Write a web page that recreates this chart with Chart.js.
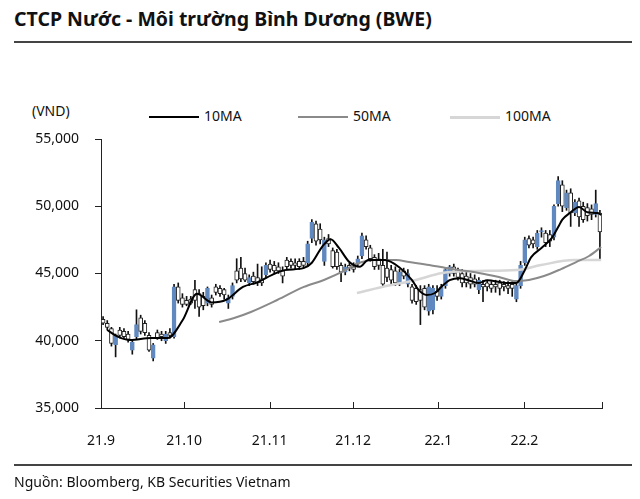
<!DOCTYPE html>
<html>
<head>
<meta charset="utf-8">
<script src="https://cdn.jsdelivr.net/npm/chart.js@4.4.0/dist/chart.umd.min.js"></script>
<style>
  body { margin: 0; width: 640px; height: 499px; position: relative; background: #fff; font-family: "Noto Sans", sans-serif; overflow: hidden; }
  #title { position: absolute; left: 14px; top: 5px; font-size: 19.5px; font-weight: bold; color: #111; white-space: nowrap; }
  .rule { position: absolute; left: 14px; width: 618px; border-top: 2px solid #444; }
  #unit { position: absolute; left: 32px; top: 101px; font-size: 14px; color: #111; }
  .leg { position: absolute; top: 106px; font-size: 14px; color: #111; }
  .leg i { display: inline-block; width: 50px; height: 0; vertical-align: middle; margin-right: 5px; }
  #source { position: absolute; left: 14px; top: 472px; font-size: 14px; color: #111; }
  canvas { position: absolute; left: 0; top: 0; }
</style>
</head>
<body>
<div id="title">CTCP Nước - Môi trường Bình Dương (BWE)</div>
<div class="rule" style="top:41px"></div>
<div id="unit">(VND)</div>
<div class="leg" style="left:149px"><i style="border-top:2px solid #000"></i>10MA</div>
<div class="leg" style="left:298px"><i style="border-top:2px solid #8a8a8a"></i>50MA</div>
<div class="leg" style="left:450px"><i style="border-top:3px solid #d6d6d6"></i>100MA</div>
<canvas id="chart" width="640" height="499"></canvas>
<div class="rule" style="top:464px"></div>
<div id="source">Nguồn: Bloomberg, KB Securities Vietnam</div>

<script>
// daily candles, Sep 2021 - Feb 2022 (one entry per trading session)
const openPrices = [
  41600, 41300, 40900, 39700, 40800, 40700, 40500, 39300, 40300, 41700,
  41300, 40400, 38700, 40600, 40500, 40000, 40600, 40300, 44000, 43200,
  43000, 43100, 43800, 43500, 43300, 42800, 43200, 44000, 43900, 43800,
  42800, 43300, 45200, 45400, 45000, 44300, 44800, 44700, 44600, 44900,
  45700, 45600, 45500, 45200, 46000, 45900, 45800, 45900, 45900, 45800,
  47600, 48700, 48300, 45900, 47600, 46700, 46600, 45600, 45100, 45600,
  45500, 45700, 46300, 47500, 46900, 46200, 46100, 45600, 45400, 45300,
  45200, 44300, 45200, 44200, 44000, 43900, 43800, 43900, 42200, 42300,
  43700, 43300, 44100, 45000, 45500, 45200, 45000, 44800, 44700, 44600,
  43800, 44200, 44300, 44200, 44200, 44300, 44200, 44100, 44200, 43100,
  44100, 45800, 47600, 47500, 47000, 48100, 48000, 47900, 47700, 50200,
  51600, 49900, 51000, 49500, 50400, 50000, 49900, 49800, 49400, 49500
];
const highPrices = [
  41800, 41500, 41000, 40500, 41000, 40900, 40700, 40100, 42300, 41900,
  41500, 40600, 39800, 40800, 40700, 40700, 40900, 44200, 44300, 43500,
  43300, 43300, 44500, 43800, 43600, 44000, 43400, 44200, 44100, 43900,
  43400, 44300, 46100, 46200, 45400, 44900, 45100, 45700, 45500, 45800,
  46000, 45900, 45800, 45500, 46200, 46100, 46100, 46100, 46200, 47400,
  49000, 48900, 48700, 47700, 47900, 46900, 46800, 45800, 45700, 45800,
  45800, 46300, 48000, 47800, 47100, 46400, 46500, 46800, 46600, 45600,
  45500, 45300, 45400, 45300, 44200, 44100, 44100, 44100, 44200, 44100,
  44100, 44200, 45400, 45600, 45700, 45400, 45300, 45100, 45000, 44900,
  44700, 44500, 44500, 44400, 44500, 44500, 44400, 44400, 44400, 44200,
  45900, 47700, 47800, 47700, 48200, 48400, 48200, 48200, 50100, 52200,
  51900, 51200, 51300, 50500, 50600, 50300, 50200, 50100, 51200, 49700
];
const lowPrices = [
  41200, 40800, 39600, 38800, 40200, 40200, 39900, 39000, 40100, 40500,
  40400, 39200, 38500, 40100, 40000, 39800, 40200, 40200, 42800, 42500,
  42600, 42700, 42400, 41800, 42300, 42600, 42500, 43400, 43300, 43100,
  42400, 43100, 44300, 44400, 44400, 44100, 44200, 44100, 44100, 44700,
  45100, 45000, 45000, 44300, 45300, 45400, 45300, 45300, 45400, 45600,
  47300, 47100, 47200, 45600, 47000, 45400, 45300, 44400, 44900, 45200,
  45100, 45500, 46100, 46800, 45900, 45300, 45300, 44000, 44400, 44200,
  44100, 44100, 44600, 44000, 42800, 42700, 41200, 42300, 41900, 42000,
  43000, 43100, 43900, 44800, 44800, 44500, 44000, 44000, 43900, 44000,
  43500, 42900, 43700, 43600, 43600, 43400, 43700, 43500, 43300, 42900,
  43900, 45600, 46900, 46900, 46800, 47700, 47000, 47000, 47500, 50000,
  49600, 49700, 48500, 49300, 48500, 48800, 48900, 49000, 49200, 46000
];
const closePrices = [
  41300, 41000, 39800, 40400, 40400, 40300, 40100, 39900, 41200, 40700,
  40600, 39300, 39700, 40200, 40300, 40500, 40400, 44000, 43000, 42700,
  42700, 42800, 43000, 42500, 42600, 43900, 42700, 43600, 43500, 43400,
  43200, 44100, 44500, 44600, 44500, 44700, 44400, 44300, 44300, 45600,
  45300, 45200, 45200, 44800, 45500, 45600, 45600, 45500, 45600, 47200,
  48800, 47400, 47500, 47500, 47200, 45500, 45500, 45100, 45500, 45400,
  45300, 46100, 47800, 47000, 46100, 45500, 45600, 44200, 44700, 44500,
  44300, 45100, 44800, 45000, 43000, 42900, 43000, 42500, 44000, 43900,
  43300, 44000, 45300, 45500, 45000, 44700, 44300, 44300, 44200, 44200,
  44500, 44000, 44000, 43900, 44000, 43900, 44000, 43900, 43900, 44100,
  45600, 47500, 47100, 47200, 48000, 48200, 47300, 47400, 50000, 51900,
  50000, 51000, 49500, 50300, 49200, 49000, 49300, 49400, 50200, 48100
];

// moving averages (session index -> price)
const ma10Idx = [1.5, 4, 7, 12, 16, 19.5, 23, 26.5, 30, 34, 37.5, 41, 44, 48.5, 50.5, 53, 55, 57, 59.5, 62, 64, 68, 71.5, 74.5, 76, 78, 80, 81.5, 83.5, 86, 88, 90.5, 92.5, 97, 99.5, 101.5, 103, 105.5, 108, 109.5, 110.5, 112.5, 114.5, 116.5, 119, 119.8];
const ma10Val = [40800, 40300, 40050, 40200, 40200, 41500, 43500, 42850, 43050, 44000, 44350, 44900, 45250, 45400, 45800, 47000, 47550, 46900, 45850, 45500, 46000, 46000, 45450, 44500, 43800, 43400, 43550, 44000, 44500, 44650, 44500, 44300, 44500, 44300, 44300, 45250, 46200, 46900, 47650, 48450, 49000, 49550, 49950, 49550, 49500, 49350];
const ma50Idx = [28.3, 31.9, 35.9, 42.2, 48.6, 53.4, 58.2, 61.1, 65.9, 70.7, 73.8, 78.6, 82.6, 85.7, 90.5, 95.3, 99.4, 102.5, 106.1, 110.2, 113.8, 116.9, 119.8];
const ma50Val = [41390, 41690, 42140, 43030, 44000, 44520, 45190, 45710, 46000, 46000, 45850, 45630, 45410, 45260, 45040, 44740, 44440, 44520, 44810, 45330, 45850, 46300, 46970];
const ma100Idx = [61.3, 67.3, 75.4, 81.7, 89.3, 99.6, 105.4, 113.3, 119.8];
const ma100Val = [43550, 44000, 44520, 45040, 45190, 45260, 45630, 46000, 46000];

const monthPos = [0, 19.9, 40.4, 60.4, 80.8, 101.4, 120];
const monthLabels = ["21.9", "21.10", "21.11", "21.12", "22.1", "22.2", ""];
const yTicks = [35000, 40000, 45000, 50000, 55000];

const upColor = "#6189c0";

const wicks = [], bodies = [], bodyFill = [], bodyEdge = [];
closePrices.forEach(function (c, i) {
  const o = openPrices[i];
  wicks.push({ x: i + 0.5, y: [lowPrices[i], highPrices[i]] });
  bodies.push({ x: i + 0.5, y: [Math.min(o, c), Math.max(o, c) + (o === c ? 60 : 0)] });
  bodyFill.push(c >= o ? upColor : "#ffffff");
  bodyEdge.push(c >= o ? upColor : "#222222");
});

function pairs(xs, ys) {
  return xs.map(function (x, i) { return { x: x, y: ys[i] }; });
}

const innerTicks = {
  id: "innerTicks",
  afterDraw(chart) {
    const c = chart.ctx, xs = chart.scales.x, b = chart.chartArea.bottom;
    c.save();
    c.strokeStyle = "#222";
    c.lineWidth = 1;
    monthPos.forEach(function (v) {
      const px = Math.round(xs.getPixelForValue(v)) + 0.5;
      c.beginPath();
      c.moveTo(px, b);
      c.lineTo(px, b - 6);
      c.stroke();
    });
    c.restore();
  }
};

new Chart(document.getElementById("chart").getContext("2d"), {
  data: {
    datasets: [
      { type: "line", data: pairs(ma10Idx, ma10Val), borderColor: "#000", borderWidth: 2, pointRadius: 0, cubicInterpolationMode: "monotone", order: 0 },
      { type: "line", data: pairs(ma50Idx, ma50Val), borderColor: "#8a8a8a", borderWidth: 2, pointRadius: 0, cubicInterpolationMode: "monotone", order: 1 },
      { type: "line", data: pairs(ma100Idx, ma100Val), borderColor: "#d6d6d6", borderWidth: 2.5, pointRadius: 0, cubicInterpolationMode: "monotone", order: 2 },
      { type: "bar", data: bodies, backgroundColor: bodyFill, borderColor: bodyEdge, borderWidth: 1, borderSkipped: false, barThickness: 4, grouped: false, order: 3 },
      { type: "bar", data: wicks, backgroundColor: "#111", barThickness: 1, grouped: false, order: 4 }
    ]
  },
  options: {
    responsive: false,
    animation: false,
    devicePixelRatio: 1,
    layout: { padding: { top: 139, right: 38, bottom: 51, left: 0 } },
    plugins: { legend: { display: false }, tooltip: { enabled: false } },
    scales: {
      x: {
        type: "linear",
        min: 0,
        max: 120,
        offset: false,
        afterFit: function (s) { s.height = 40; },
        afterBuildTicks: function (s) { s.ticks = monthPos.map(function (v) { return { value: v }; }); },
        grid: { display: false, offset: false },
        border: { display: true, color: "#222", width: 1 },
        ticks: {
          autoSkip: false, maxRotation: 0, padding: 17, color: "#111",
          font: { family: "Noto Sans", size: 14 },
          callback: function (v, i) { return monthLabels[i]; }
        }
      },
      y: {
        min: 35000,
        max: 55000,
        afterFit: function (s) { s.width = 101; },
        afterBuildTicks: function (s) { s.ticks = yTicks.map(function (v) { return { value: v }; }); },
        grid: { drawOnChartArea: false, drawTicks: true, tickLength: 6, color: "#222" },
        border: { display: true, color: "#222", width: 1 },
        ticks: {
          padding: 16, color: "#111",
          font: { family: "Noto Sans", size: 14 },
          callback: function (v) { return v.toLocaleString("en-US"); }
        }
      }
    }
  },
  plugins: [innerTicks]
});
</script>
</body>
</html>
